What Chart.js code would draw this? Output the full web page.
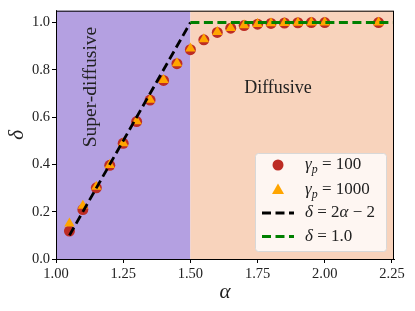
<!DOCTYPE html>
<html>
<head>
<meta charset="utf-8">
<script src="https://cdn.jsdelivr.net/npm/chart.js@4"></script>
<style>
  html, body { margin: 0; padding: 0; background: #fff; }
  #wrap { width: 415px; height: 311px; }
</style>
</head>
<body>
<div id="wrap"><canvas id="c" width="415" height="311"></canvas></div>
<script>
// data
const alphas = [1.05, 1.10, 1.15, 1.20, 1.25, 1.30, 1.35, 1.40, 1.45, 1.50, 1.55,
                1.60, 1.65, 1.70, 1.75, 1.80, 1.85, 1.90, 1.95, 2.00, 2.20];
const deltaG100 = [0.118, 0.209, 0.301, 0.396, 0.489, 0.581, 0.672, 0.755, 0.826, 0.885, 0.927,
                   0.958, 0.976, 0.987, 0.993, 0.996, 0.998, 0.999, 1.0, 1.0, 1.0];
const deltaG1000 = [0.150, 0.225, 0.305, 0.398, 0.490, 0.582, 0.673, 0.757, 0.828, 0.890, 0.929,
                    0.960, 0.977, 0.988, 0.994, 0.997, 0.998, 0.999, 1.0, 1.0, 1.0];
const superLineAlpha = [1.05, 1.5];
const superLineDelta = [0.1, 1.0];
const diffLineAlpha = [1.5, 2.3];
const diffLineDelta = [1.0, 1.0];
const xTicks = [1.00, 1.25, 1.50, 1.75, 2.00, 2.25];
const yTicks = [0.0, 0.2, 0.4, 0.6, 0.8, 1.0];
const regionSplit = 1.5;

const SERIF = '"Liberation Serif", "DejaVu Serif", serif';

const toPts = (xs, ys) => xs.map((x, i) => ({ x: x, y: ys[i] }));

// pieces of the math labels: [text, italic, subscript]
const legendMath = [
  [['γ', 1], ['p', 1, 1], [' = 100']],
  [['γ', 1], ['p', 1, 1], [' = 1000']],
  [['δ', 1], [' = 2'], ['α', 1], [' − 2']],
  [['δ', 1], [' = 1.0']]
];

function drawMath(ctx, parts, x, y, size) {
  ctx.textBaseline = 'middle';
  ctx.textAlign = 'left';
  parts.forEach(p => {
    const s = p[2] ? size * 0.7 : size;
    ctx.font = (p[1] ? 'italic ' : '') + s + 'px ' + SERIF;
    ctx.fillText(p[0], x, p[2] ? y + size * 0.3 : y);
    x += ctx.measureText(p[0]).width;
  });
}

const regions = {
  id: 'regions',
  beforeDatasetsDraw(chart) {
    const { ctx, chartArea: a, scales: { x } } = chart;
    const sx = x.getPixelForValue(regionSplit);
    ctx.save();
    ctx.fillStyle = '#b4a0e1';
    ctx.fillRect(a.left, a.top, sx - a.left, a.bottom - a.top);
    ctx.fillStyle = '#f8d3bc';
    ctx.fillRect(sx, a.top, a.right - sx, a.bottom - a.top);

    ctx.fillStyle = '#222';
    ctx.font = '18px ' + SERIF;
    ctx.textAlign = 'center';
    ctx.textBaseline = 'middle';
    ctx.fillText('Diffusive', x.getPixelForValue(1.826), chart.scales.y.getPixelForValue(0.72));
    ctx.font = '19.5px ' + SERIF;
    ctx.translate(x.getPixelForValue(1.13), chart.scales.y.getPixelForValue(0.727));
    ctx.rotate(-Math.PI / 2);
    ctx.fillText('Super-diffusive', 0, 0);
    ctx.restore();
  },
  afterDraw(chart) {
    const { ctx, chartArea: a } = chart;
    ctx.save();
    // frame
    ctx.strokeStyle = '#000';
    ctx.lineWidth = 1;
    ctx.strokeRect(a.left + 0.5, a.top + 0.5, a.right - a.left - 1, a.bottom - a.top);

    // axis titles
    ctx.fillStyle = '#222';
    ctx.font = 'italic 21px ' + SERIF;
    ctx.textAlign = 'center';
    ctx.textBaseline = 'middle';
    ctx.fillText('α', (a.left + a.right) / 2, 292);
    ctx.save();
    ctx.translate(17, (a.top + a.bottom) / 2);
    ctx.rotate(-Math.PI / 2);
    ctx.fillText('δ', 0, 0);
    ctx.restore();

    // legend
    const bx = 255, by = 153, bw = 131, bh = 98;
    ctx.beginPath();
    ctx.roundRect(bx + 0.5, by + 0.5, bw, bh, 3);
    ctx.fillStyle = 'rgba(255,255,255,0.8)';
    ctx.fill();
    ctx.strokeStyle = '#d8d8d8';
    ctx.stroke();

    const ds = chart.data.datasets;
    const rows = [165, 189.5, 213, 236.5];
    ds.forEach((d, i) => {
      const y = rows[i];
      if (d.showLine) {
        ctx.strokeStyle = d.borderColor;
        ctx.lineWidth = d.borderWidth;
        ctx.setLineDash(d.borderDash);
        ctx.beginPath();
        ctx.moveTo(262, y);
        ctx.lineTo(294, y);
        ctx.stroke();
        ctx.setLineDash([]);
      } else {
        ctx.fillStyle = d.backgroundColor;
        ctx.beginPath();
        if (d.pointStyle === 'triangle') {
          ctx.moveTo(278, y - 6);
          ctx.lineTo(284, y + 4.5);
          ctx.lineTo(272, y + 4.5);
          ctx.closePath();
        } else {
          ctx.arc(278, y, 5.5, 0, Math.PI * 2);
        }
        ctx.fill();
      }
      ctx.fillStyle = '#222';
      drawMath(ctx, legendMath[i], 305, y, 17);
    });
    ctx.restore();
  }
};

new Chart(document.getElementById('c'), {
  type: 'scatter',
  data: {
    datasets: [
      {
        label: 'γp = 100',
        data: toPts(alphas, deltaG100),
        pointStyle: 'circle',
        pointRadius: 5.5,
        backgroundColor: '#bd2c24',
        borderColor: '#bd2c24',
        borderWidth: 0,
        order: 3
      },
      {
        label: 'γp = 1000',
        data: toPts(alphas, deltaG1000),
        pointStyle: 'triangle',
        pointRadius: 6,
        backgroundColor: '#ffa500',
        borderColor: '#ffa500',
        borderWidth: 0,
        order: 2
      },
      {
        label: 'δ = 2α − 2',
        data: toPts(superLineAlpha, superLineDelta),
        showLine: true,
        pointRadius: 0,
        borderColor: '#000',
        borderWidth: 2.8,
        borderDash: [9, 4.5],
        order: 1
      },
      {
        label: 'δ = 1.0',
        data: toPts(diffLineAlpha, diffLineDelta),
        showLine: true,
        pointRadius: 0,
        borderColor: '#008000',
        borderWidth: 2.8,
        borderDash: [9, 4.5],
        order: 0
      }
    ]
  },
  options: {
    responsive: false,
    animation: false,
    layout: { padding: { top: 9, right: 21, left: 0, bottom: 0 } },
    plugins: { legend: { display: false }, tooltip: { enabled: false } },
    scales: {
      x: {
        type: 'linear',
        min: 1.0,
        max: 2.2575,
        afterBuildTicks: s => { s.ticks = xTicks.map(v => ({ value: v })); },
        afterFit: s => { s.height = 52; },
        border: { display: true, color: '#000', width: 1 },
        grid: { drawOnChartArea: false, color: '#000', tickLength: 4 },
        ticks: {
          color: '#222',
          padding: 2,
          maxRotation: 0,
          font: { family: SERIF, size: 14.5 },
          callback: v => v.toFixed(2)
        }
      },
      y: {
        type: 'linear',
        min: 0,
        max: 1.05,
        afterBuildTicks: s => { s.ticks = yTicks.map(v => ({ value: v })); },
        afterFit: s => { s.width = 56; },
        border: { display: true, color: '#000', width: 1 },
        grid: { drawOnChartArea: false, color: '#000', tickLength: 4 },
        ticks: {
          color: '#222',
          padding: 2,
          font: { family: SERIF, size: 14.5 },
          callback: v => v.toFixed(1)
        }
      }
    }
  },
  plugins: [regions]
});
</script>
</body>
</html>
